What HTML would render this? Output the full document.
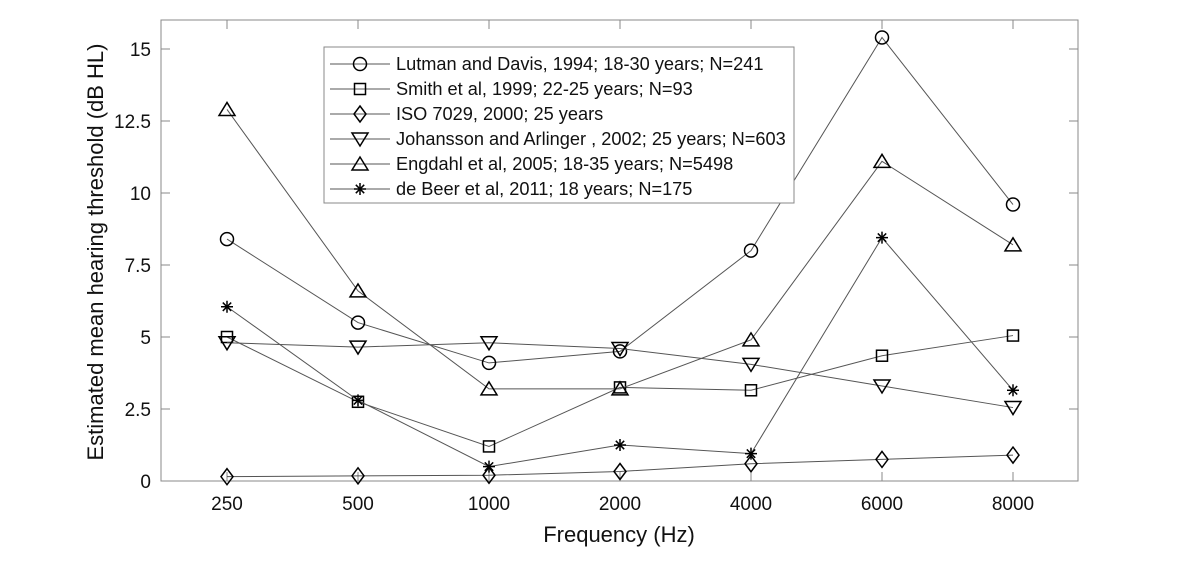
<!DOCTYPE html>
<html><head><meta charset="utf-8"><style>
html,body{margin:0;padding:0;background:#fff;}
svg{display:block;font-family:"Liberation Sans",Arial,sans-serif;}
</style></head><body>
<svg id="s" width="1200" height="563" viewBox="0 0 1200 563" xmlns="http://www.w3.org/2000/svg">
<rect x="161" y="20" width="917" height="461" fill="#fff" stroke="#888" stroke-width="1"/>
<g id="ticks" stroke="#888" stroke-width="1"></g>
<g font-size="19" fill="#111" text-anchor="end">
<text x="151" y="488">0</text>
<text x="151" y="416">2.5</text>
<text x="151" y="344">5</text>
<text x="151" y="272">7.5</text>
<text x="151" y="200">10</text>
<text x="151" y="128">12.5</text>
<text x="151" y="56">15</text>
</g>
<g font-size="19" fill="#111" text-anchor="middle">
<text x="227" y="510">250</text>
<text x="358" y="510">500</text>
<text x="489" y="510">1000</text>
<text x="620" y="510">2000</text>
<text x="751" y="510">4000</text>
<text x="882" y="510">6000</text>
<text x="1013" y="510">8000</text>
</g>
<text x="619" y="542" font-size="22" fill="#111" text-anchor="middle">Frequency (Hz)</text>
<text transform="translate(103,252) rotate(-90)" font-size="22" fill="#111" text-anchor="middle">Estimated mean hearing threshold (dB HL)</text>
<g id="data"></g>
<rect x="324" y="47" width="470" height="156" fill="#fff" stroke="#888" stroke-width="1"/>
<g id="leg"></g>
<g font-size="18.2" fill="#111">
<text x="396" y="70">Lutman and Davis, 1994; 18-30 years; N=241</text>
<text x="396" y="95">Smith et al, 1999; 22-25 years; N=93</text>
<text x="396" y="120">ISO 7029, 2000; 25 years</text>
<text x="396" y="145">Johansson and Arlinger , 2002; 25 years; N=603</text>
<text x="396" y="170">Engdahl et al, 2005; 18-35 years; N=5498</text>
<text x="396" y="195">de Beer et al, 2011; 18 years; N=175</text>
</g>
</svg>
<script>
var NS="http://www.w3.org/2000/svg";
function el(p,t,a){var e=document.createElementNS(NS,t);for(var k in a)e.setAttribute(k,a[k]);p.appendChild(e);return e;}
var X=[227,358,489,620,751,882,1013];
function Y(v){return 481-v*28.8;}
var tk=document.getElementById('ticks');
X.forEach(function(x){el(tk,'line',{x1:x,y1:481,x2:x,y2:472});el(tk,'line',{x1:x,y1:20,x2:x,y2:29});});
[0,2.5,5,7.5,10,12.5,15].forEach(function(v){var y=Y(v);el(tk,'line',{x1:161,y1:y,x2:170,y2:y});el(tk,'line',{x1:1078,y1:y,x2:1069,y2:y});});
function marker(g,m,x,y){
 var a={fill:'none',stroke:'#000','stroke-width':1.5};
 if(m=='o'){a.cx=x;a.cy=y;a.r=6.5;el(g,'circle',a);}
 else if(m=='s'){a.x=x-5.5;a.y=y-5.5;a.width=11;a.height=11;el(g,'rect',a);}
 else if(m=='d'){a.points=[x,y-8,x+6,y,x,y+8,x-6,y].join(' ');el(g,'polygon',a);}
 else if(m=='v'){a.points=[x-8,y-6,x+8,y-6,x,y+7].join(' ');el(g,'polygon',a);}
 else if(m=='^'){a.points=[x-8,y+6,x+8,y+6,x,y-7].join(' ');el(g,'polygon',a);}
 else if(m=='*'){var r=6;[[0,r],[r,0],[r*.7,r*.7],[r*.7,-r*.7]].forEach(function(d){el(g,'line',{x1:x-d[0],y1:y-d[1],x2:x+d[0],y2:y+d[1],stroke:'#000','stroke-width':1.5});});}
}
var S=[
 ['o',[8.4,5.5,4.1,4.5,8.0,15.4,9.6]],
 ['s',[5.0,2.75,1.2,3.25,3.15,4.35,5.05]],
 ['d',[0.15,0.18,0.2,0.33,0.6,0.75,0.9]],
 ['v',[4.8,4.65,4.8,4.6,4.05,3.3,2.55]],
 ['^',[12.9,6.6,3.2,3.2,4.9,11.1,8.2]],
 ['*',[6.05,2.8,0.5,1.25,0.95,8.45,3.15]]
];
var g=document.getElementById('data'),lg=document.getElementById('leg');
S.forEach(function(s,i){
 el(g,'polyline',{points:s[1].map(function(v,j){return X[j]+','+Y(v);}).join(' '),fill:'none',stroke:'#555','stroke-width':1});
 s[1].forEach(function(v,j){marker(g,s[0],X[j],Y(v));});
 var ly=64+25*i;
 el(lg,'line',{x1:330,y1:ly,x2:390,y2:ly,stroke:'#555','stroke-width':1});
 marker(lg,s[0],360,ly);
});
</script>
</body></html>
